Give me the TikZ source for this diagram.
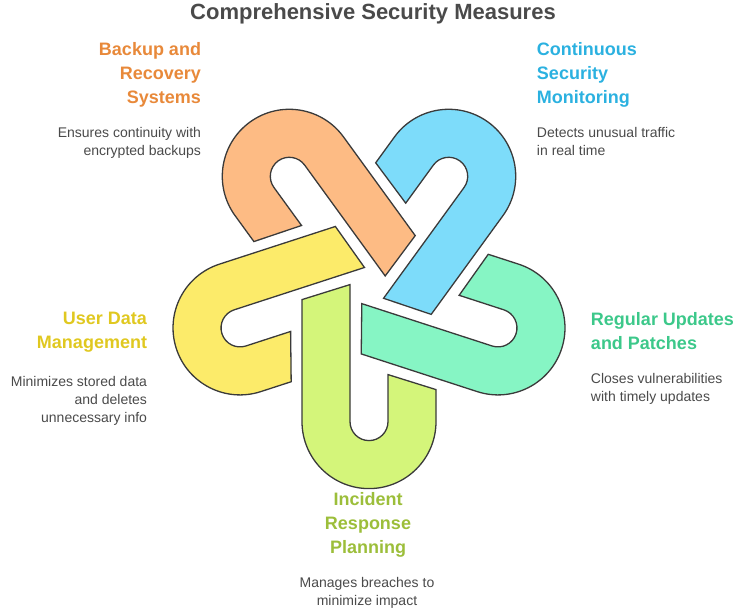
\documentclass[tikz,border=0pt]{standalone}
\usepackage{fontspec}
\setmainfont{Liberation Sans}
\usetikzlibrary{positioning,calc}
\definecolor{orangeF}{HTML}{FDBB84}
\definecolor{blueF}{HTML}{7DDCFA}
\definecolor{greenF}{HTML}{86F5C4}
\definecolor{limeF}{HTML}{D4F57A}
\definecolor{yellowF}{HTML}{FCEB6A}
\definecolor{orangeT}{HTML}{E8893A}
\definecolor{blueT}{HTML}{2BB1E0}
\definecolor{greenT}{HTML}{3CC88A}
\definecolor{limeT}{HTML}{9CBE3A}
\definecolor{yellowT}{HTML}{E0C820}
\definecolor{edge}{HTML}{3A3A3A}
\definecolor{body}{HTML}{4A4A4A}
\tikzset{
  hook/.pic={\path[pic actions] (0,67) -- (122,67) -- (137,19) -- (0,19)
     arc[start angle=90,end angle=270,radius=19] -- (47,-19) -- (32,-67) -- (0,-67)
     arc[start angle=270,end angle=90,radius=67] -- cycle;},
  head/.style={font=\fontsize{18}{24}\selectfont\bfseries},
  desc/.style={font=\fontsize{14}{18}\selectfont, text=body}
}
\begin{document}
\begin{tikzpicture}[x=1pt,y=1pt,line width=1.3pt]
  \useasboundingbox (0,0) rectangle (746,610);
  \coordinate (c) at (369,324);

  \pic[fill=limeF,draw=edge,rotate=90]    at ($(c)+(-90:135.6)$)  {hook};
  \pic[fill=yellowF,draw=edge,rotate=18]  at ($(c)+(-162:135.6)$) {hook};
  \pic[fill=orangeF,draw=edge,rotate=-54] at ($(c)+(126:135.6)$)  {hook};
  \pic[fill=blueF,draw=edge,rotate=-126]  at ($(c)+(54:135.6)$)   {hook};
  \pic[fill=greenF,draw=edge,rotate=162]  at ($(c)+(-18:135.6)$)  {hook};

  \node[font=\fontsize{22}{26}\selectfont\bfseries,text=body] (title) at (373,596) {Comprehensive Security Measures};

  \node[head,text=orangeT,align=right,anchor=north east] (backup) at (205,572) {Backup and\\Recovery\\Systems};
  \node[desc,align=right,anchor=north east] (backupd) at (205,487) {Ensures continuity with\\encrypted backups};

  \node[head,text=blueT,align=left,anchor=north west] (monitor) at (533,572) {Continuous\\Security\\Monitoring};
  \node[desc,align=left,anchor=north west] (monitord) at (533,487) {Detects unusual traffic\\in real time};

  \node[head,text=greenT,align=left,anchor=north west] (updates) at (587,302) {Regular Updates\\and Patches};
  \node[desc,align=left,anchor=north west] (updatesd) at (587,241) {Closes vulnerabilities\\with timely updates};

  \node[head,text=yellowT,align=right,anchor=north east] (userdata) at (151,302) {User Data\\Management};
  \node[desc,align=right,anchor=north east] (userdatad) at (151,238) {Minimizes stored data\\and deletes\\unnecessary info};

  \node[head,text=limeT,align=center,anchor=north] (incident) at (368,122) {Incident\\Response\\Planning};
  \node[desc,align=center,anchor=north] (incidentd) at (367,37) {Manages breaches to\\minimize impact};
\end{tikzpicture}
\end{document}
